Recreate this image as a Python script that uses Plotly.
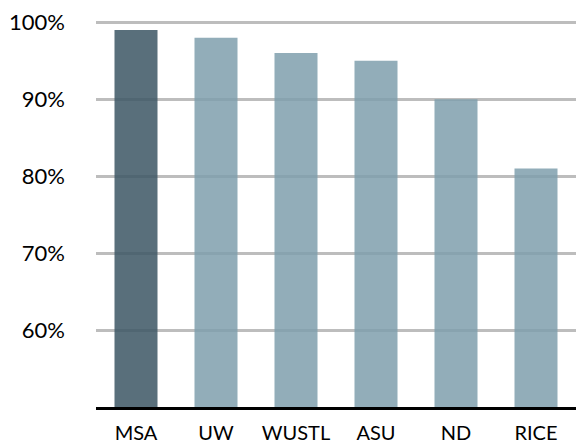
import plotly.graph_objects as go

categories = ["MSA", "UW", "WUSTL", "ASU", "ND", "RICE"]
values = [99, 98, 96, 95, 90, 81]
highlight = "MSA"

y_ticks = [60, 70, 80, 90, 100]
y_tick_labels = ["60%", "70%", "80%", "90%", "100%"]

dark = "rgb(61,87,101)"
light = "rgb(127,159,173)"
colors = [dark if c == highlight else light for c in categories]

fig = go.Figure(
    go.Bar(
        x=categories,
        y=values,
        marker=dict(color=colors, line=dict(width=0)),
        opacity=0.85,
        width=0.5375,
        hoverinfo="x+y",
    )
)

font_family = "Lato, 'Open Sans', sans-serif"

fig.update_layout(
    width=576,
    height=445,
    margin=dict(l=96, r=0, t=20, b=38),
    paper_bgcolor="white",
    plot_bgcolor="white",
    showlegend=False,
    font=dict(family=font_family, size=21, color="black"),
    xaxis=dict(
        showgrid=False,
        showline=True,
        linecolor="black",
        linewidth=3,
        ticks="",
        ticklabelstandoff=6,
        tickfont=dict(size=20),
        zeroline=False,
        automargin=False,
    ),
    yaxis=dict(
        range=[50, 100.3],
        tickvals=y_ticks,
        ticktext=y_tick_labels,
        showgrid=True,
        gridcolor="#bdbdbd",
        gridwidth=2.5,
        showline=False,
        zeroline=False,
        ticks="",
        ticklabelstandoff=30,
        tickfont=dict(size=22),
        automargin=False,
    ),
)

fig.write_html(
    "out.html",
    config={"displayModeBar": False},
    post_script="document.body.style.margin='0';document.body.style.padding='0';",
)
